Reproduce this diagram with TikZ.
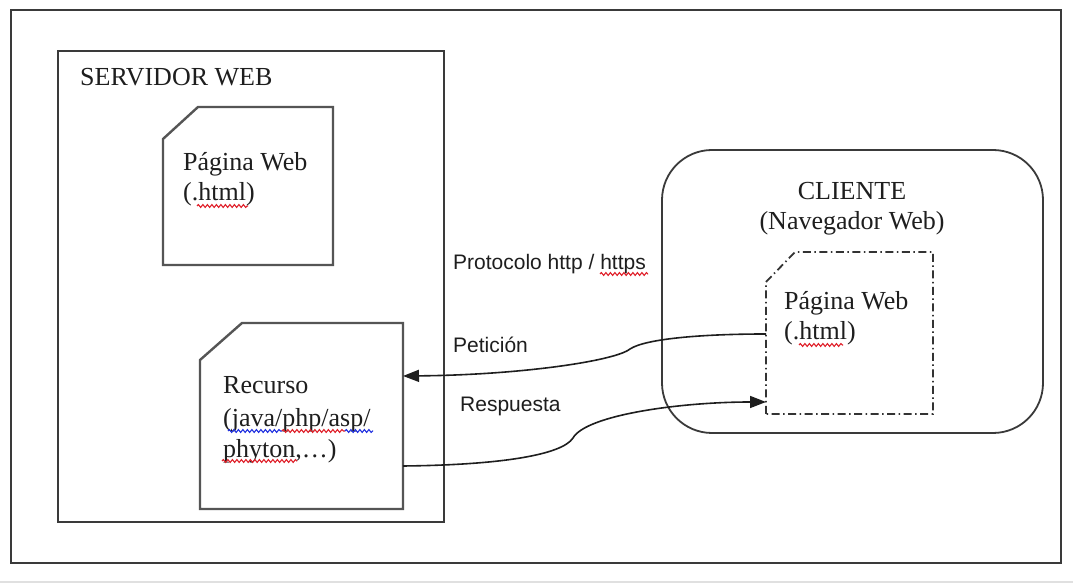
\documentclass[tikz,border=0pt]{standalone}
\usepackage{fontspec}
\setmainfont{Liberation Serif}
\newfontfamily\labelsans{Liberation Sans}
\usetikzlibrary{arrows.meta,calc,decorations.pathmorphing}

\definecolor{ink}{HTML}{1E1E1E}
\definecolor{frameline}{HTML}{3A3A3A}
\definecolor{pageline}{HTML}{555555}
\definecolor{spellred}{HTML}{E0202A}
\definecolor{spellblue}{HTML}{2030E0}

\tikzset{
  area/.style={draw=none, inner sep=0pt, outer sep=0pt},
  serif/.style={font=\fontsize{26}{30}\selectfont, text=ink, inner sep=0pt, anchor=base west},
  sanslabel/.style={font=\labelsans\fontsize{21}{24}\selectfont, text=ink, inner sep=0pt, anchor=base west},
  docline/.style={draw=pageline, line width=2.4pt, line join=miter},
  clientpage/.style={draw=black!80, line width=1.8pt, dash pattern=on 8pt off 3.5pt on 1.5pt off 3.5pt},
  link/.style={draw=ink, line width=1.6pt},
  tip/.style={-{Triangle[length=16pt,width=12pt]}},
  squiggle/.style={line width=1.1pt, decorate, decoration={snake, amplitude=1.4pt, segment length=4.5pt}},
}

\begin{document}
\begin{tikzpicture}[x=1pt,y=1pt]
\useasboundingbox (0,0) rectangle (1073,583);
\fill[white] (0,0) rectangle (1073,583);
% thin grey strip along the lower edge
\fill[black!12] (0,0) rectangle (1073,2);

% outer frame
\node[area, minimum width=1050pt, minimum height=553pt] (frame) at (536,296.5) {};
\draw[frameline, line width=2pt] (frame.south west) rectangle (frame.north east);

% web server
\node[area, minimum width=386pt, minimum height=471pt] (server) at (251,296.5) {};
\draw[frameline, line width=1.6pt] (server.south west) rectangle (server.north east);
\node[serif] (servertitle) at (80,497) {SERVIDOR WEB};

% static page on the server
\node[area, minimum width=170pt, minimum height=158pt] (page) at (248,397) {};
\draw[docline] (page.south west) -- ($(page.north west)+(0,-32)$) -- ($(page.north west)+(35,0)$)
  -- (page.north east) -- (page.south east) -- cycle;
\node[serif] (pagename) at (183,412) {Página Web};
\node[serif] (pageext) at (183,382) {(.html)};
\draw[spellred, squiggle] (197,377) -- (248,377);

% server-side resource
\node[area, minimum width=203pt, minimum height=186pt] (res) at (301.5,167) {};
\draw[docline] (res.south west) -- ($(res.north west)+(0,-37)$) -- ($(res.north west)+(42,0)$)
  -- (res.north east) -- (res.south east) -- cycle;
\node[serif] (resname) at (223,189) {Recurso};
\node[serif] (reslang) at (223,156) {(java/php/asp/};
\node[serif] (resmore) at (223,125) {phyton,…)};
\draw[spellblue, squiggle] (228,152) -- (282,152);
\draw[spellred, squiggle] (282,152) -- (345,152);
\draw[spellblue, squiggle] (345,152) -- (373,152);
\draw[spellred, squiggle] (222,122) -- (297,122);

% client (browser)
\node[area, minimum width=381pt, minimum height=283pt] (client) at (852.5,291.5) {};
\draw[frameline, line width=1.8pt, rounded corners=50pt] (client.south west) rectangle (client.north east);
\node[serif, anchor=base] (clientname) at (852,383) {CLIENTE};
\node[serif, anchor=base] (clientkind) at (852,353) {(Navegador Web)};

% page rendered in the browser
\node[area, minimum width=167pt, minimum height=162pt] (cpage) at (849.5,250) {};
\draw[clientpage] (cpage.south west) -- ($(cpage.north west)+(0,-30)$) -- ($(cpage.north west)+(29,0)$)
  -- (cpage.north east) -- (cpage.south east) -- cycle;
\node[serif] (cpagename) at (784,273) {Página Web};
\node[serif] (cpageext) at (784,243) {(.html)};
\draw[spellred, squiggle] (799,238) -- (843,238);

% protocol labels
\node[sanslabel] (proto) at (453,313) {Protocolo http / https};
\draw[spellred, squiggle] (600,309) -- (648,309);
\node[sanslabel] (req) at (453,230) {Petición};
\node[sanslabel] (resp) at (460,171) {Respuesta};

% request: browser page -> resource
\coordinate (reqstart) at ([yshift=-1pt]cpage.west);
\coordinate (reqend) at ([yshift=40pt]res.east);
\draw[link, tip] (reqstart) .. controls (700,249) and (645,244) .. (630,234)
  .. controls (615,222) and (520,208) .. (reqend);

% response: resource -> browser page
\coordinate (respstart) at ([yshift=-50pt]res.east);
\coordinate (respend) at ([yshift=-69pt]cpage.west);
\draw[link, tip] (respstart) .. controls (500,118) and (562,128) .. (573,145)
  .. controls (586,168) and (680,181) .. (respend);
\end{tikzpicture}
\end{document}
